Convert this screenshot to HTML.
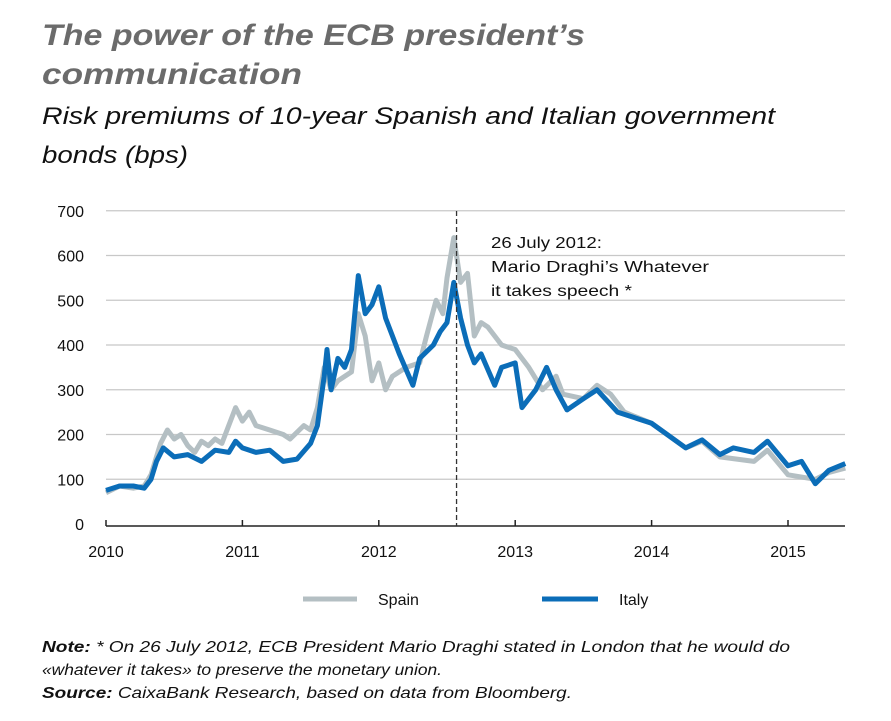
<!DOCTYPE html>
<html><head><meta charset="utf-8"><style>
body{margin:0;background:#fff;}
svg{display:block;font-family:"Liberation Sans",sans-serif;}
</style></head><body>
<svg id="c" width="891" height="721" viewBox="0 0 891 721">
<text x="42" y="45" font-size="30" font-weight="bold" font-style="italic" fill="#6b6b6b" textLength="543" lengthAdjust="spacingAndGlyphs">The power of the ECB president’s</text>
<text x="42" y="84" font-size="30" font-weight="bold" font-style="italic" fill="#6b6b6b" textLength="260" lengthAdjust="spacingAndGlyphs">communication</text>
<text x="42" y="124" font-size="24" font-style="italic" fill="#111" textLength="733" lengthAdjust="spacingAndGlyphs">Risk premiums of 10-year Spanish and Italian government</text>
<text x="42" y="163" font-size="24" font-style="italic" fill="#111" textLength="146" lengthAdjust="spacingAndGlyphs">bonds (bps)</text>
<g id="grid"></g><g id="ylab"></g><g id="xax"></g><g id="series"></g>
<text x="491" y="248" font-size="16" fill="#111" textLength="111" lengthAdjust="spacingAndGlyphs">26 July 2012:</text>
<text x="491" y="272" font-size="16" fill="#111" textLength="218" lengthAdjust="spacingAndGlyphs">Mario Draghi’s Whatever</text>
<text x="491" y="296" font-size="16" fill="#111" textLength="141" lengthAdjust="spacingAndGlyphs">it takes speech *</text>
<line x1="303" y1="599" x2="357" y2="599" stroke="#b4bfc3" stroke-width="5"/>
<text x="378" y="605" font-size="16" fill="#111">Spain</text>
<line x1="542" y1="599" x2="598" y2="599" stroke="#0b6db8" stroke-width="5"/>
<text x="619" y="605" font-size="16" fill="#111">Italy</text>
<text x="42" y="652" font-size="16" font-style="italic" fill="#111" textLength="748" lengthAdjust="spacingAndGlyphs"><tspan font-weight="bold">Note:</tspan> * On 26 July 2012, ECB President Mario Draghi stated in London that he would do</text>
<text x="42" y="675" font-size="16" font-style="italic" fill="#111" textLength="400" lengthAdjust="spacingAndGlyphs">«whatever it takes» to preserve the monetary union.</text>
<text x="42" y="698" font-size="16" font-style="italic" fill="#111" textLength="530" lengthAdjust="spacingAndGlyphs"><tspan font-weight="bold">Source:</tspan> CaixaBank Research, based on data from Bloomberg.</text>
</svg>
<script>
const yTicks=[0,100,200,300,400,500,600,700];
const xTicks=[2010,2011,2012,2013,2014,2015];
const spainT=[2010.0,2010.1,2010.2,2010.28,2010.33,2010.4,2010.45,2010.5,2010.55,2010.6,2010.65,2010.7,2010.75,2010.8,2010.85,2010.95,2011.0,2011.05,2011.1,2011.2,2011.3,2011.35,2011.45,2011.5,2011.55,2011.6,2011.65,2011.7,2011.8,2011.85,2011.9,2011.95,2012.0,2012.05,2012.1,2012.2,2012.3,2012.35,2012.42,2012.47,2012.5,2012.55,2012.6,2012.65,2012.7,2012.75,2012.8,2012.9,2013.0,2013.1,2013.2,2013.3,2013.35,2013.5,2013.6,2013.7,2013.8,2014.0,2014.25,2014.37,2014.5,2014.75,2014.85,2015.0,2015.2,2015.3,2015.42];
const spainV=[70,85,80,85,110,180,210,190,200,175,160,185,175,190,180,260,230,250,220,210,200,190,220,210,260,350,300,320,340,470,420,320,360,300,330,350,360,420,500,470,550,640,540,560,420,450,440,400,390,350,300,330,290,280,310,290,250,225,170,185,150,140,165,110,100,115,125];
const italyT=[2010.0,2010.1,2010.2,2010.28,2010.33,2010.37,2010.42,2010.5,2010.6,2010.7,2010.8,2010.9,2010.95,2011.0,2011.1,2011.2,2011.3,2011.4,2011.5,2011.55,2011.6,2011.62,2011.65,2011.7,2011.75,2011.8,2011.85,2011.9,2011.95,2012.0,2012.05,2012.15,2012.25,2012.3,2012.4,2012.45,2012.5,2012.55,2012.6,2012.65,2012.7,2012.75,2012.85,2012.9,2013.0,2013.05,2013.15,2013.23,2013.3,2013.38,2013.5,2013.6,2013.75,2014.0,2014.25,2014.37,2014.5,2014.6,2014.75,2014.85,2015.0,2015.1,2015.2,2015.3,2015.42];
const italyV=[75,85,85,80,100,140,170,150,155,140,165,160,185,170,160,165,140,145,180,220,330,390,300,370,350,390,555,470,490,530,460,380,310,370,400,430,450,540,460,400,360,380,310,350,360,260,300,350,300,255,280,300,250,225,170,188,155,170,160,185,130,140,90,120,135];
const x0=106,x1=242.4, yZero=524, yPer=0.4475;
const sx=t=>x0+(t-2010)*(x1-x0);
const sy=v=>yZero-v*yPer;
const NS='http://www.w3.org/2000/svg';
function mk(tag,attrs,parent){const e=document.createElementNS(NS,tag);for(const k in attrs)e.setAttribute(k,attrs[k]);document.getElementById(parent).appendChild(e);return e;}
yTicks.forEach(v=>{
 if(v>0){const l=mk('line',{x1:106,x2:845,y1:sy(v),y2:sy(v),stroke:'#c8c8c8','stroke-width':1.3},'grid');
 
 }
 const t=mk('text',{x:84,y:sy(v)+6,'font-size':16,'text-anchor':'end',fill:'#111'},'ylab');t.textContent=v;
 
 
});
const ax=mk('line',{x1:106,x2:845,y1:526,y2:526,stroke:'#222','stroke-width':1.5},'xax');


xTicks.forEach(y=>{
 const tk=mk('line',{x1:sx(y),x2:sx(y),y1:520,y2:526,stroke:'#222','stroke-width':1.5},'xax');
 
 
 const t=mk('text',{x:sx(y),y:557,'font-size':16,'text-anchor':'middle',fill:'#111'},'xax');t.textContent=y;
 
 
});
const pts=(T,V)=>T.map((t,i)=>sx(t).toFixed(1)+','+sy(V[i]).toFixed(1)).join(' ');
const sp=mk('polyline',{points:pts(spainT,spainV),fill:'none',stroke:'#b4bfc3','stroke-width':5,'stroke-linejoin':'round'},'series');


const it=mk('polyline',{points:pts(italyT,italyV),fill:'none',stroke:'#0b6db8','stroke-width':5,'stroke-linejoin':'round'},'series');


const dl=mk('line',{x1:sx(2012.57),x2:sx(2012.57),y1:211,y2:526,stroke:'#333','stroke-width':1.3,'stroke-dasharray':'5,3'},'series');


</script>
</body></html>
